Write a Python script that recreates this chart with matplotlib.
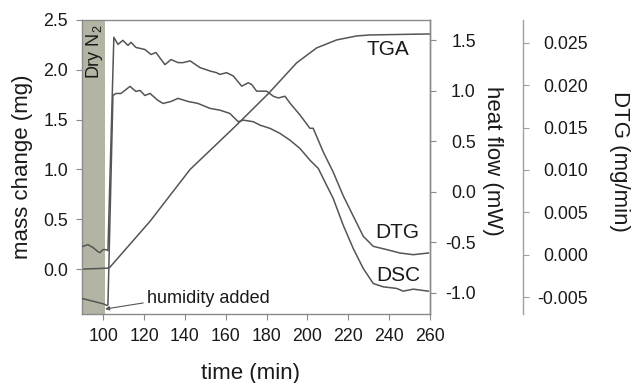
import numpy as np
import matplotlib
matplotlib.use('Agg')
import matplotlib.pyplot as plt

plt.rcParams['font.family'] = ['Liberation Sans', 'DejaVu Sans']

# --- data
tga_t = [89.6, 102.3, 103.3, 122.9, 142.5, 164.5, 180.8, 194.7, 204.5, 214.3, 224.1, 230.6, 260.0]
tga_m = [0.0, 0.01, 0.02, 0.48, 1.00, 1.43, 1.76, 2.07, 2.22, 2.30, 2.34, 2.35, 2.36]

dtg_t = [89.6, 92.5, 95.0, 97.4, 98.4, 99.9, 101.3, 102.3, 105.2, 107.2, 109.6, 112.1,
         113.6, 116.0, 120.4, 123.4, 125.8, 130.2, 133.2, 136.6, 139.2, 142.5, 147.4,
         152.3, 155.5, 157.1, 160.4, 163.7, 167.8, 171.0, 172.7, 175.1, 180.0, 183.3,
         185.7, 189.0, 191.4, 196.3, 201.2, 202.8, 207.7, 212.6, 217.5, 222.4, 227.3,
         232.2, 238.8, 245.3, 251.8, 259.2]
dtg_v = [0.00095, 0.00119, 0.00084, 0.00036, 0.00024, 0.0006, 0.0006, 0.00048, 0.02566,
         0.02482, 0.0253, 0.0247, 0.02506, 0.02446, 0.02422, 0.02363, 0.02387, 0.02243,
         0.02303, 0.02267, 0.02267, 0.02288, 0.02208, 0.02168, 0.02148, 0.02128, 0.02148,
         0.02109, 0.01989, 0.02029, 0.02008, 0.0193, 0.0193, 0.0187, 0.0185, 0.0187,
         0.0179, 0.0165, 0.01492, 0.01492, 0.01214, 0.00975, 0.00696, 0.00457, 0.00218,
         0.00099, 0.0006, 0.0002, 0.0, 0.0002]

dsc_t = [89.6, 93.5, 98.4, 100.3, 101.8, 102.3, 104.75, 106.2, 108.7, 113.1, 116.0, 118.0,
         120.4, 122.9, 126.8, 129.3, 133.2, 136.6, 141.5, 146.4, 152.3, 157.1, 162.0,
         166.1, 168.6, 173.5, 176.8, 181.7, 186.6, 191.4, 196.3, 201.2, 205.3, 207.7,
         212.6, 217.5, 222.4, 227.3, 232.2, 237.1, 243.7, 246.9, 251.8, 259.2]
dsc_hf = [-1.056, -1.076, -1.101, -1.111, -1.126, -1.12, 0.953, 0.973, 0.973, 1.043, 0.993,
          1.003, 0.953, 0.973, 0.904, 0.874, 0.894, 0.924, 0.894, 0.874, 0.825, 0.808,
          0.775, 0.693, 0.709, 0.693, 0.659, 0.627, 0.577, 0.511, 0.429, 0.313, 0.231,
          0.132, -0.066, -0.331, -0.561, -0.759, -0.908, -0.941, -0.957, -0.984, -0.964,
          -0.984]

dry_start, dry_end = 89.6, 100.8
x_ticks = [100, 120, 140, 160, 180, 200, 220, 240, 260]
mass_ticks = [0.0, 0.5, 1.0, 1.5, 2.0, 2.5]
hf_ticks = [-1.0, -0.5, 0.0, 0.5, 1.0, 1.5]
dtg_ticks = [-0.005, 0.0, 0.005, 0.010, 0.015, 0.020, 0.025]
# ---

line_c = '#555555'
spine_c = '#8a8a8a'
txt_c = '#1a1a1a'
tick_fs = 12.8
lab_fs = 16

fig = plt.figure(figsize=(6.32, 3.83), dpi=100)
ax = fig.add_axes([82 / 632, 69 / 383, 348 / 632, 294 / 383])
ax2 = ax.twinx()
ax3 = ax.twinx()

# grey band sits on the main axes, which is drawn underneath the twins
ax.axvspan(dry_start, dry_end, color='#b4b4a5', lw=0, zorder=0)
ax.plot(tga_t, tga_m, color=line_c, lw=1.1)
ax2.plot(dsc_t, dsc_hf, color=line_c, lw=1.1)
ax3.plot(dtg_t, dtg_v, color=line_c, lw=1.1)

ax.set_xlim(89.6, 260)
ax.set_ylim(-0.45, 2.5)
ax2.set_ylim(-1.21, 1.70)
ax3.set_ylim(-0.0070, 0.0277)

ax.set_xticks(x_ticks)
ax.set_yticks(mass_ticks)
ax.set_yticklabels(['%.1f' % v for v in mass_ticks])
ax2.set_yticks(hf_ticks)
ax2.set_yticklabels(['%.1f' % v for v in hf_ticks])
ax3.set_yticks(dtg_ticks)
ax3.set_yticklabels(['%.3f' % v for v in dtg_ticks])

for a in (ax, ax2, ax3):
    for s in a.spines.values():
        s.set_color(spine_c)
        s.set_linewidth(1.0)
for a in (ax2, ax3):
    for k in ('top', 'left', 'bottom'):
        a.spines[k].set_visible(False)
ax3.spines['right'].set_position(('axes', 1.267))
ax3.spines['right'].set_color('#a0a0a0')

ax.tick_params(axis='both', direction='out', length=4, color=spine_c,
               labelsize=tick_fs, labelcolor=txt_c, pad=6)
ax.tick_params(axis='y', right=False)
ax2.tick_params(axis='y', direction='out', length=4, color=spine_c,
                labelsize=tick_fs, labelcolor=txt_c, pad=29)
ax3.tick_params(axis='y', direction='out', length=4, color='#a0a0a0',
                labelsize=tick_fs, labelcolor=txt_c, pad=43)
for lbl in ax2.get_yticklabels() + ax3.get_yticklabels():
    lbl.set_horizontalalignment('right')

ax.set_xlabel('time (min)', fontsize=lab_fs, color=txt_c)
ax.xaxis.set_label_coords(0.485, -0.165)
ax.set_ylabel('mass change (mg)', fontsize=lab_fs, color=txt_c)
ax.yaxis.set_label_coords(-0.14, 0.5)
ax2.set_ylabel('heat flow (mW)', fontsize=lab_fs, color=txt_c, rotation=270,
               va='center')
ax2.yaxis.set_label_coords(1.18, 0.52)
ax3.set_ylabel('DTG (mg/min)', fontsize=lab_fs, color=txt_c, rotation=270,
               va='center')
ax3.yaxis.set_label_coords(1.545, 0.52)

ax.text(95.9, 2.18, r'Dry N$_\mathregular{2}$', rotation=90, ha='center', va='center',
        fontsize=13, color=txt_c)
ax.text(239.4, 2.20, 'TGA', ha='center', va='center', fontsize=15, color=txt_c)
ax.text(243.8, 0.37, 'DTG', ha='center', va='center', fontsize=15, color=txt_c)
ax.text(244.3, -0.06, 'DSC', ha='center', va='center', fontsize=15, color=txt_c)
ax.annotate('humidity added', xy=(100.9, -0.40), xytext=(121.6, -0.29),
            ha='left', va='center', fontsize=13, color=txt_c,
            arrowprops=dict(arrowstyle='-|>', color=line_c, lw=0.8,
                            mutation_scale=6, shrinkA=1, shrinkB=0,
                            relpos=(0.0, 0.25)))

plt.savefig('out.png', dpi=100)
plt.close()
